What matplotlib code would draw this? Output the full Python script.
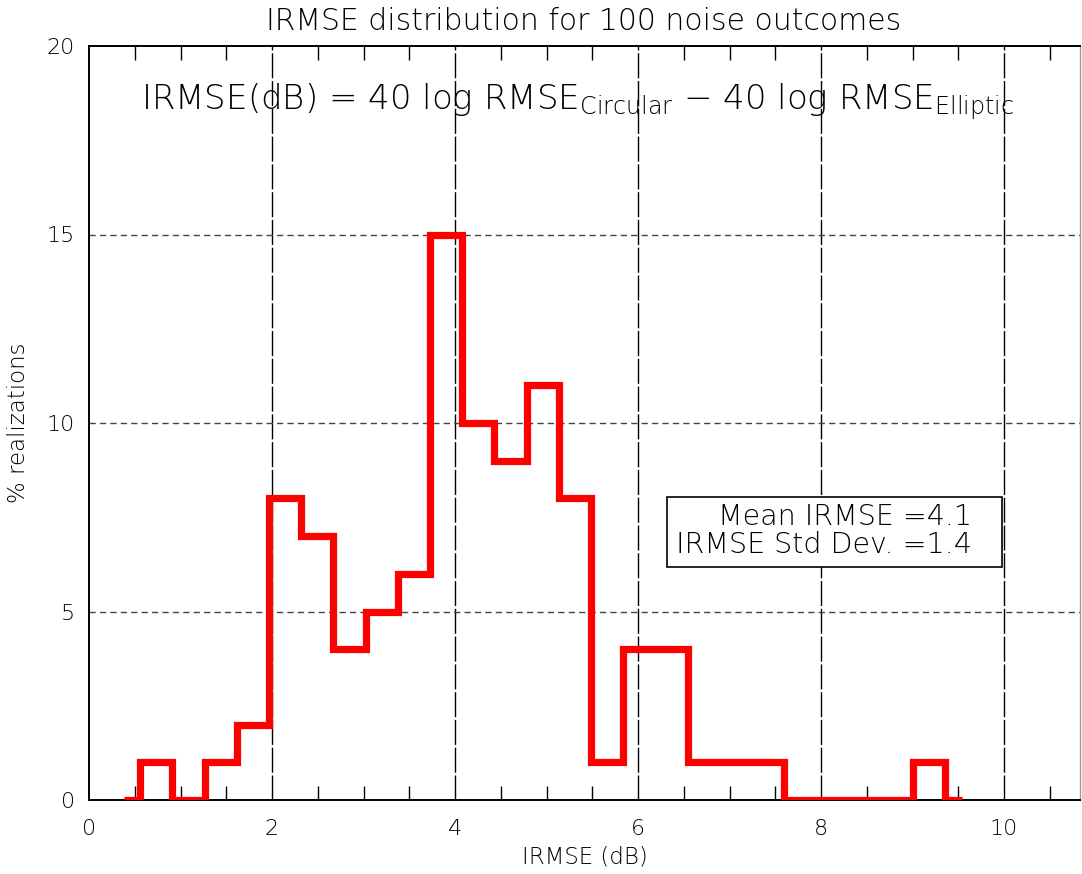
import numpy as np
import matplotlib
matplotlib.use('Agg')
import matplotlib.pyplot as plt
from matplotlib.patches import Rectangle
from matplotlib.ticker import MultipleLocator

# histogram of IRMSE over 100 noise realizations (% per bin)
bin_start = 0.383
bin_width = 0.352
pct_counts = [0, 1, 0, 1, 2, 8, 7, 4, 5, 6, 15, 10, 9, 11, 8, 1, 4, 4,
              1, 1, 1, 0, 0, 0, 0, 1, 0]
mean_irmse = 4.1
std_irmse = 1.4

x_ticks = [0, 2, 4, 6, 8, 10]
y_ticks = [0, 5, 10, 15, 20]
grid_x = [2, 4, 6, 8, 10]
grid_y = [5, 10, 15]

plt.rcParams['font.family'] = ['DejaVu Sans']
plt.rcParams['font.weight'] = 200
plt.rcParams['axes.labelweight'] = 200
plt.rcParams['mathtext.default'] = 'regular'

fig = plt.figure(figsize=(10.82, 8.74), dpi=100)
ax = fig.add_axes([89 / 1082, 1 - 800 / 874, (1080 - 89) / 1082, (800 - 46) / 874])

centers = bin_start + bin_width * np.arange(len(pct_counts))

for gx in grid_x:
    ax.axvline(gx, color='black', lw=1.0, dashes=(18, 2), zorder=1)
for gy in grid_y:
    ax.axhline(gy, color='#444444', lw=1.0, dashes=(4.5, 3), zorder=1)

ax.step(centers, pct_counts, where='mid', color='red', lw=5.2, zorder=3,
        solid_joinstyle='miter', solid_capstyle='butt')

ax.set_xlim(0, 10.83)
ax.set_ylim(0, 20)
ax.set_xticks(x_ticks)
ax.set_xticklabels([str(t) for t in x_ticks])
ax.xaxis.set_minor_locator(MultipleLocator(0.5))
ax.set_yticks(y_ticks)
ax.set_yticklabels([str(t) for t in y_ticks])
ax.tick_params(axis='x', which='minor', direction='in', top=True, bottom=True,
               length=10, width=1, colors='black')
ax.tick_params(axis='x', which='major', length=0, pad=14, labelsize=16)
ax.tick_params(axis='y', which='both', length=0, pad=10, labelsize=16)

for side in ['left', 'bottom', 'top']:
    ax.spines[side].set_linewidth(1.4)
    ax.spines[side].set_color('black')
ax.spines['right'].set_linewidth(1.0)
ax.spines['right'].set_color('#999999')

ax.set_xlabel('IRMSE (dB)', fontsize=16.5, labelpad=4)
ax.set_ylabel('% realizations', fontsize=16.5, labelpad=12)

fig.text(584 / 1082, 1 - 22 / 874, 'IRMSE distribution for 100 noise outcomes',
         ha='center', va='center', fontsize=21.5)

fig.text(578 / 1082, 1 - 102 / 874,
         r'IRMSE(dB) = 40 log RMSE$_{Circular}$ $-$ 40 log RMSE$_{Elliptic}$',
         ha='center', va='center', fontsize=24.5)

# stats box
box = Rectangle((667 / 1082, 1 - 567 / 874), (1002 - 667) / 1082, 70 / 874,
                transform=fig.transFigure, fill=True, facecolor='white',
                edgecolor='black', lw=1.2, zorder=5)
fig.patches.append(box)
fig.text(972 / 1082, 1 - 517 / 874, 'Mean IRMSE =%.1f' % mean_irmse,
         ha='right', va='center', fontsize=20.5, zorder=6)
fig.text(972 / 1082, 1 - 545 / 874, 'IRMSE Std Dev. =%.1f' % std_irmse,
         ha='right', va='center', fontsize=20.5, zorder=6)

fig.savefig('out.png', dpi=100)
